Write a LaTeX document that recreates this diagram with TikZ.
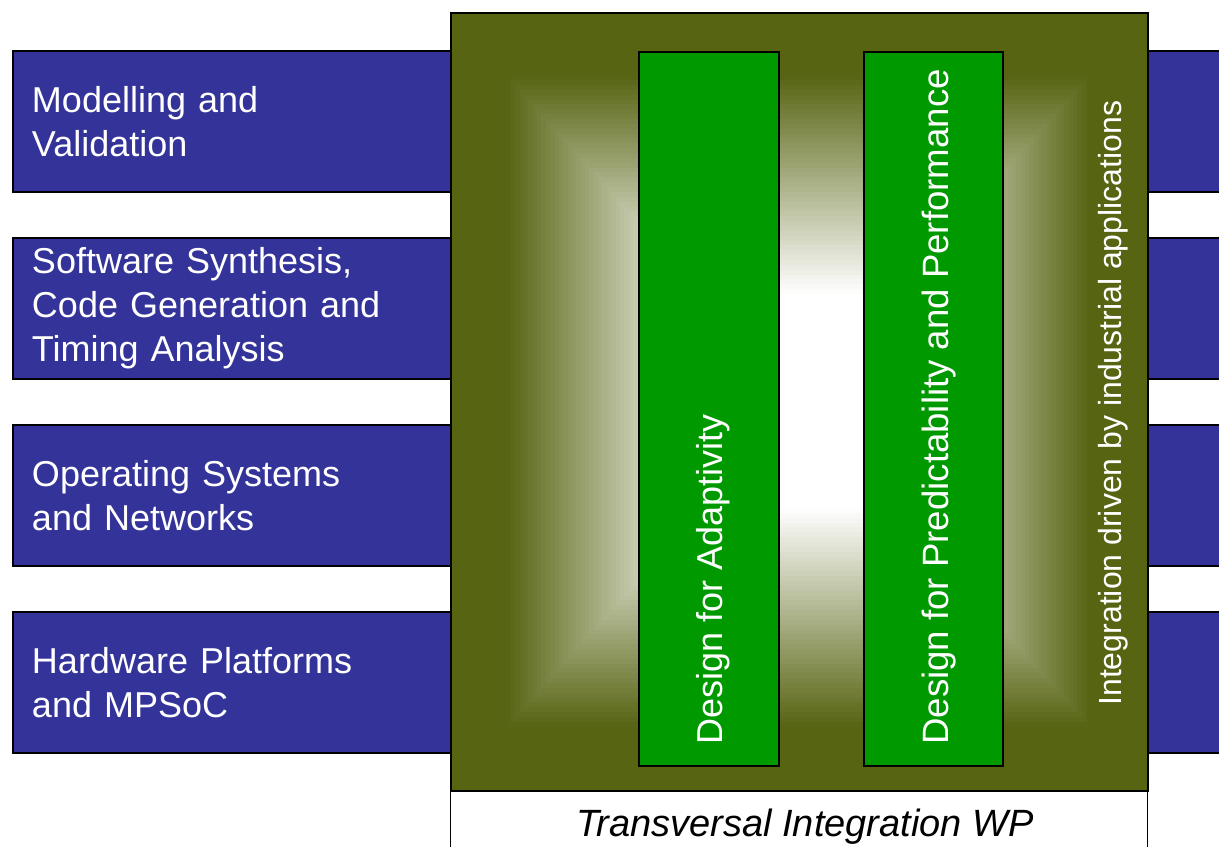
\documentclass[tikz,border=0pt]{standalone}
\usepackage{fontspec}
\setmainfont{Liberation Sans}
\usetikzlibrary{positioning}
\definecolor{wpblue}{RGB}{51,51,153}
\definecolor{wpgreen}{RGB}{0,153,0}
\definecolor{wpolive}{RGB}{74,88,0}
\tikzset{
  area/.style={draw=black, line width=1pt, fill=wpblue, text=white, anchor=north west,
    minimum width=614pt, minimum height=70.5pt, inner xsep=9.5pt, inner ysep=0pt,
    text width=595pt, align=left, font=\fontsize{18}{22}\selectfont},
  pillar/.style={draw=black, line width=1pt, fill=wpgreen, anchor=north west,
    minimum width=70pt, minimum height=357pt, inner sep=0pt},
  vlabel/.style={rotate=90, anchor=base west, text=white, inner sep=0pt,
    font=\fontsize{18}{22}\selectfont},
}

\begin{document}
\begin{tikzpicture}[x=0.5pt, y=-0.5pt]
    \useasboundingbox (0,0) rectangle (1219,846);
    \clip (0,0) rectangle (1219,846);
    \node[area] (mv) at (12,50) {Modelling and\\Validation};
    \node[area, below=22pt of mv] (ssc) {Software Synthesis,\\Code Generation and\\Timing Analysis};
    \node[area, below=22pt of ssc] (osn) {Operating Systems\\and Networks};
    \node[area, below=22pt of osn] (hwp) {Hardware Platforms\\and MPSoC};

    \node[draw=black, line width=0.5pt, fill=white, anchor=north west,
          minimum width=348.5pt, minimum height=40pt] (foot) at (450,790) {};
    % rectangular glow, olive at the rim, white in the middle
    \foreach \i [evaluate=\i as \t using 1-\i/80,
                 evaluate=\i as \f using {max(0,min(93,(1-\i/80-0.28)*165))}] in {0,...,80}
      \fill[wpolive!\f!white] ({798.5-348.5*\t},{401-389*\t}) rectangle ({798.5+348.5*\t},{401+389*\t});
    \node[draw=black, line width=1pt, anchor=north west,
          minimum width=348.5pt, minimum height=389pt] (twp) at (450,12) {};

    \node[pillar] (adapt) at (638,51) {};
    \node[pillar, minimum width=69.5pt] (perf) at (863,51) {};

    \node[vlabel] (adtext) at (722,745) {Design for Adaptivity};
    \node[vlabel, font=\fontsize{18.3}{22}\selectfont] (pftext) at (948,745) {Design for Predictability and Performance};
    \node[vlabel, font=\fontsize{16}{20}\selectfont] (idtext) at (1121,706) {Integration driven by industrial applications};
    \node[anchor=base, font=\fontsize{19}{22}\selectfont\itshape] (wptext) at (805,836) {Transversal Integration WP};
\end{tikzpicture}
\end{document}
